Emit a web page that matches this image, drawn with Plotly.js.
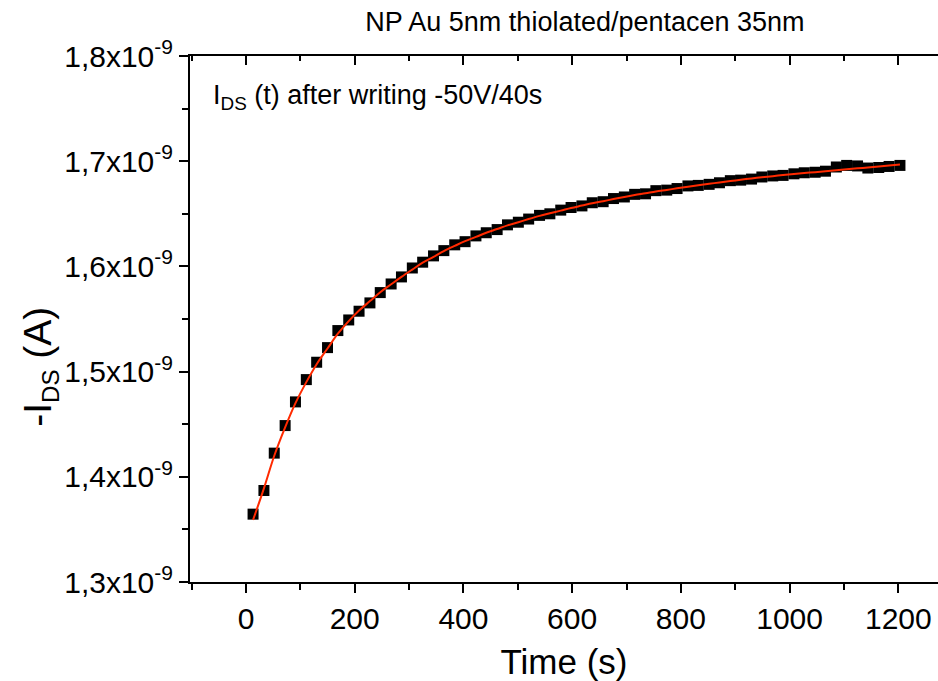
<!DOCTYPE html>
<html>
<head>
<meta charset="utf-8">
<script src="https://cdn.plot.ly/plotly-3.0.1.min.js"></script>
<style>html,body{margin:0;padding:0;background:#fff;}#chart{width:938px;height:681px;}</style>
</head>
<body>
<div id="chart"></div>
<script>
// Time (s)
const timeS = [13, 33, 52, 72, 91, 111, 130, 150, 169, 189, 208, 228, 247, 267, 286, 306, 325, 345, 364, 384,
  403, 423, 442, 462, 481, 501, 520, 540, 559, 579, 598, 618, 637, 657, 676, 696, 715, 735, 754, 774,
  793, 813, 832, 852, 871, 891, 910, 930, 949, 969, 988, 1008, 1027, 1047, 1066, 1086, 1105, 1125, 1144, 1164, 1183, 1203];
// measured -I_DS (units of 1e-9 A)
const idsMeasured = [1.3645, 1.387, 1.4225, 1.4487, 1.4712, 1.4924, 1.5089, 1.5228, 1.539, 1.5491,
  1.5574, 1.5653, 1.5751, 1.5833, 1.590, 1.5985, 1.6040, 1.6100, 1.6150, 1.6205,
  1.6235, 1.6290, 1.6320, 1.6350, 1.6395, 1.6420, 1.6450, 1.6485, 1.6500, 1.6535,
  1.6560, 1.6575, 1.6605, 1.6615, 1.6645, 1.6660, 1.6685, 1.6690, 1.6720, 1.6725,
  1.6740, 1.6765, 1.6770, 1.6780, 1.6795, 1.6815, 1.6820, 1.6830, 1.6850, 1.6860,
  1.6865, 1.6880, 1.6890, 1.6895, 1.6905, 1.6945, 1.6960, 1.6955, 1.6935, 1.6940, 1.6950, 1.6960];
// fitted curve (units of 1e-9 A)
const idsFit = [1.359, 1.389, 1.420, 1.447, 1.470, 1.490, 1.507, 1.522, 1.536, 1.548,
  1.558, 1.567, 1.5755, 1.583, 1.590, 1.597, 1.6035, 1.609, 1.6145, 1.6195,
  1.624, 1.628, 1.632, 1.6355, 1.639, 1.642, 1.645, 1.648, 1.6505, 1.653,
  1.6555, 1.6578, 1.660, 1.662, 1.664, 1.666, 1.6678, 1.6695, 1.6712, 1.6727,
  1.6742, 1.6757, 1.6771, 1.6785, 1.6798, 1.6811, 1.6824, 1.6836, 1.6847, 1.6858,
  1.6868, 1.6878, 1.6887, 1.6896, 1.6905, 1.6914, 1.6923, 1.6932, 1.6941, 1.6950, 1.6959, 1.6968];
const yTickVals = [1.3, 1.4, 1.5, 1.6, 1.7, 1.8];
const yTickText = ["1,3x10<sup>-9</sup>", "1,4x10<sup>-9</sup>", "1,5x10<sup>-9</sup>", "1,6x10<sup>-9</sup>", "1,7x10<sup>-9</sup>", "1,8x10<sup>-9</sup>"];
const xTickVals = [0, 200, 400, 600, 800, 1000, 1200];

const FONT = "Liberation Sans, Arial, sans-serif";

const traces = [
  {x: timeS, y: idsMeasured, type: 'scatter', mode: 'markers', name: 'data',
   marker: {symbol: 'square', size: 11, color: '#000000'}},
  {x: timeS, y: idsFit, type: 'scatter', mode: 'lines', name: 'fit',
   line: {color: '#ff2a00', width: 2, shape: 'spline'}},
  // carrier for the top (mirror) axis, not visible
  {x: timeS, y: idsFit, type: 'scatter', mode: 'lines', name: 'top axis', xaxis: 'x2', yaxis: 'y',
   line: {color: 'rgba(0,0,0,0)', width: 0}, hoverinfo: 'skip', showlegend: false}
];

const layout = {
  width: 938, height: 681,
  paper_bgcolor: '#ffffff', plot_bgcolor: '#ffffff',
  margin: {l: 190, r: 0, t: 56, b: 99, pad: 0},
  showlegend: false,
  font: {family: FONT, color: '#000000'},
  title: {text: 'NP Au 5nm thiolated/pentacen 35nm', font: {family: FONT, size: 27, color: '#000'},
          xref: 'paper', x: 0.528, xanchor: 'center', yref: 'container', y: 0.968, yanchor: 'middle'},
  xaxis: {
    range: [-103, 1273], tickmode: 'array', tickvals: xTickVals,
    ticks: 'outside', ticklen: 9, tickwidth: 2, tickcolor: '#000',
    minor: {dtick: 100, ticks: 'outside', ticklen: 6, tickwidth: 2, tickcolor: '#000', showgrid: false},
    showline: true, linecolor: '#000', linewidth: 2, showgrid: false, zeroline: false,
    tickfont: {family: FONT, size: 30, color: '#000'},
    title: {text: 'Time (s)', font: {family: FONT, size: 35, color: '#000'}, standoff: 18}
  },
  xaxis2: {
    overlaying: 'x', side: 'top', anchor: 'y', range: [-103, 1273],
    tickmode: 'array', tickvals: xTickVals, showticklabels: false,
    ticks: 'inside', ticklen: 9, tickwidth: 2, tickcolor: '#000',
    minor: {dtick: 100, ticks: 'inside', ticklen: 5, tickwidth: 2, tickcolor: '#000', showgrid: false},
    showline: true, linecolor: '#000', linewidth: 2, showgrid: false, zeroline: false
  },
  yaxis: {
    range: [1.3, 1.8], tickmode: 'array', tickvals: yTickVals, ticktext: yTickText,
    ticks: 'outside', ticklen: 9, tickwidth: 2, tickcolor: '#000',
    minor: {dtick: 0.05, ticks: 'outside', ticklen: 6, tickwidth: 2, tickcolor: '#000', showgrid: false},
    showline: true, linecolor: '#000', linewidth: 2, showgrid: false, zeroline: false,
    tickfont: {family: FONT, size: 30, color: '#000'}
  },
  annotations: [{
    text: 'I<sub>DS</sub> (t) after writing -50V/40s', showarrow: false,
    xref: 'paper', yref: 'paper', x: 0.028, y: 0.922, xanchor: 'left', yanchor: 'middle',
    font: {family: FONT, size: 27, color: '#000'}
  }, {
    text: '-I<sub><span style="font-size:24px">DS</span></sub> (A)', showarrow: false, textangle: -90,
    xref: 'paper', yref: 'paper', x: -0.2, y: 0.41, xanchor: 'center', yanchor: 'middle',
    font: {family: FONT, size: 39, color: '#000'}
  }]
};

Plotly.newPlot('chart', traces, layout, {displayModeBar: false, staticPlot: true});
</script>
</body>
</html>
